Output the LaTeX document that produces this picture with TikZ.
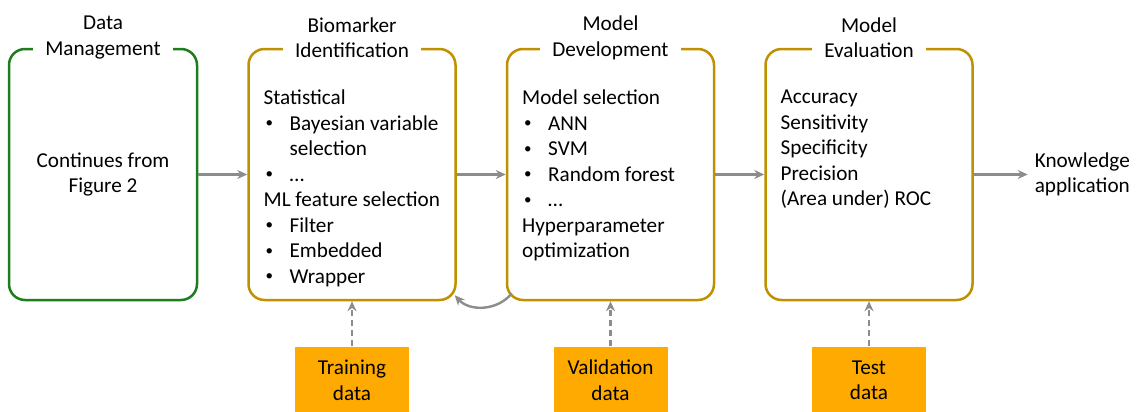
\documentclass[tikz,border=0pt]{standalone}
\usepackage{fontspec}
\setmainfont{Carlito}
\usepackage{tikz}
\usetikzlibrary{positioning}
\usetikzlibrary{arrows.meta}

\definecolor{mgreen}{HTML}{1E7E1E}
\definecolor{mgold}{HTML}{BF9000}
\definecolor{morange}{HTML}{FFAA00}
\definecolor{mgray}{HTML}{8C8C8C}

\newcommand{\bul}[1]{\makebox[13pt][l]{\hspace{1pt}\raisebox{1.2pt}{\fontsize{7.5}{7.5}\selectfont\textbullet}}#1}
\newcommand{\cont}[1]{\hspace*{13pt}#1}

\begin{document}
\begin{tikzpicture}[
            x=1pt, y=1pt,
            stage/.style={rectangle, rounded corners=8pt, draw=mgold, line width=1.25pt, minimum width=103.5pt, minimum height=125.5pt},
            title/.style={fill=white, align=center, inner xsep=6pt, inner ysep=2pt},
            items/.style={align=left, anchor=north west, inner sep=0pt},
            flow/.style={-{Stealth[length=5pt, width=4.5pt]}, mgray, line width=1.2pt},
            feed/.style={flow, dash pattern=on 3pt off 2pt},
            dset/.style={rectangle, fill=morange, minimum width=57pt, minimum height=33.5pt, align=center},
            node distance=24.5pt,
            font=\fontsize{10.6}{12.75}\selectfont
        ]
            \useasboundingbox (0,0) rectangle (568,-206);

            \node[stage, draw=mgreen, minimum width=94pt, align=center](dm) at (51.5,-87.25){Continues from\\Figure 2};
                \node[stage](bi)[right=of dm]{};
                    \node[stage](md)[right=of bi]{};
                        \node[stage](me)[right=of md]{};
                            \node[align=left](ka)[right=27pt of me]{Knowledge\\application};

            \node[title] at ([yshift=5pt]dm.north){Data\\Management};
            \node[title] at ([yshift=5pt]bi.north){Biomarker\\Identification};
            \node[title] at ([yshift=5pt]md.north){Model\\Development};
            \node[title] at ([yshift=5pt]me.north){Model\\Evaluation};

            \node[items] at ([shift={(8pt,-21pt)}]bi.north west){Statistical\\ \bul{Bayesian variable}\\ \cont{selection}\\ \bul{…}\\ ML feature selection\\ \bul{Filter}\\ \bul{Embedded}\\ \bul{Wrapper}};
            \node[items] at ([shift={(8pt,-21pt)}]md.north west){Model selection\\ \bul{ANN}\\ \bul{SVM}\\ \bul{Random forest}\\ \bul{…}\\ Hyperparameter\\ optimization};
            \node[items] at ([shift={(8pt,-21pt)}]me.north west){Accuracy\\ Sensitivity\\ Specificity\\ Precision\\ (Area under) ROC};

            \node[dset](tr)[below=22.5pt of bi]{Training\\data};
            \node[dset](va)[below=22.5pt of md]{Validation\\data};
            \node[dset](te)[below=22.5pt of me]{Test\\data};

            \draw[flow] (dm) -- (bi);
            \draw[flow] (bi) -- (md);
            \draw[flow] (md) -- (me);
            \draw[flow] (me) -- (ka);
            \draw[flow] ([shift={(3pt,4pt)}]md.south west) to[bend left=50] ([shift={(-1pt,3pt)}]bi.south east);

            \draw[feed] (tr) -- (bi);
            \draw[feed] (va) -- (md);
            \draw[feed] (te) -- (me);
        \end{tikzpicture}
\end{document}
